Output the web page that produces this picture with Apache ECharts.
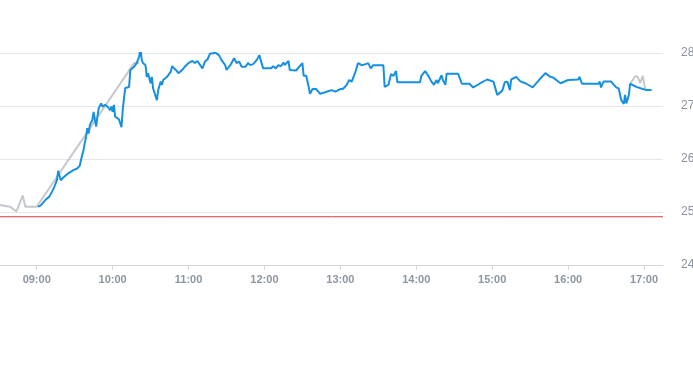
<!DOCTYPE html>
<html>
<head>
<meta charset="utf-8">
<script src="https://cdn.jsdelivr.net/npm/echarts@6/dist/echarts.min.js"></script>
<style>
html,body{margin:0;padding:0;background:#fff;}
#chart{width:693px;height:365px;}
</style>
</head>
<body>
<div id="chart"></div>
<script>
var xTickLabels = ["09:00","10:00","11:00","12:00","13:00","14:00","15:00","16:00","17:00"];
var yTickValues = [24, 25, 26, 27, 28];
var axisStart = "08:31";
var axisEnd = "17:15";
var refValue = 24.91;

var blueTimes = ["09:01","09:03","09:07","09:10","09:12","09:14","09:16","09:17","09:18","09:19","09:21","09:25","09:29","09:32","09:34","09:35","09:37","09:38","09:39","09:40","09:41","09:42","09:44","09:45","09:46","09:47","09:48","09:49","09:51","09:52","09:54","09:56","09:58","09:59","10:00","10:01","10:02","10:05","10:07","10:08","10:09","10:10","10:13","10:14","10:17","10:19","10:21","10:22","10:23","10:24","10:26","10:27","10:28","10:30","10:31","10:32","10:35","10:36","10:38","10:39","10:40","10:43","10:46","10:47","10:50","10:52","10:55","10:57","11:00","11:03","11:05","11:07","11:11","11:13","11:15","11:17","11:19","11:21","11:24","11:26","11:29","11:30","11:33","11:36","11:38","11:40","11:42","11:45","11:47","11:49","11:51","11:54","11:56","11:57","11:59","12:05","12:07","12:09","12:11","12:13","12:15","12:16","12:19","12:20","12:25","12:30","12:31","12:33","12:35","12:36","12:38","12:41","12:44","12:48","12:53","12:56","13:00","13:02","13:05","13:07","13:09","13:12","13:14","13:17","13:20","13:22","13:24","13:26","13:34","13:35","13:38","13:40","13:42","13:44","13:45","14:03","14:04","14:07","14:10","14:12","14:14","14:16","14:17","14:20","14:21","14:23","14:24","14:33","14:36","14:42","14:45","14:50","14:56","15:01","15:04","15:08","15:10","15:12","15:14","15:15","15:19","15:22","15:27","15:32","15:37","15:42","15:46","15:48","15:54","16:00","16:08","16:09","16:11","16:24","16:25","16:26","16:28","16:34","16:38","16:40","16:42","16:44","16:45","16:46","16:48","16:49","16:54","16:59","17:02","17:06"];
var blueValues = [25.10,25.12,25.23,25.29,25.38,25.48,25.60,25.78,25.81,25.60,25.65,25.73,25.79,25.82,25.87,25.98,26.17,26.30,26.42,26.58,26.48,26.64,26.74,26.89,26.74,26.61,26.80,26.96,27.05,26.99,27.02,26.99,26.92,26.99,26.89,27.02,26.80,26.75,26.60,26.92,27.15,27.34,27.36,27.68,27.74,27.81,27.93,28.11,27.87,27.81,27.77,27.55,27.62,27.43,27.55,27.33,27.11,27.30,27.46,27.40,27.49,27.55,27.65,27.75,27.68,27.62,27.68,27.74,27.81,27.85,27.81,27.85,27.71,27.84,27.88,27.99,27.99,28.01,27.96,27.87,27.77,27.68,27.77,27.90,27.81,27.84,27.74,27.74,27.81,27.77,27.79,27.87,27.96,27.87,27.71,27.71,27.75,27.71,27.77,27.75,27.82,27.77,27.85,27.68,27.67,27.81,27.57,27.57,27.36,27.23,27.32,27.32,27.23,27.26,27.30,27.27,27.32,27.32,27.40,27.49,27.46,27.65,27.81,27.77,27.79,27.81,27.71,27.77,27.77,27.36,27.40,27.60,27.57,27.66,27.45,27.45,27.57,27.66,27.55,27.46,27.40,27.49,27.43,27.58,27.49,27.40,27.61,27.61,27.42,27.42,27.35,27.42,27.50,27.46,27.21,27.29,27.45,27.46,27.30,27.50,27.55,27.47,27.42,27.35,27.49,27.62,27.55,27.54,27.43,27.49,27.50,27.55,27.42,27.42,27.46,27.35,27.46,27.46,27.35,27.33,27.11,27.04,27.21,27.05,27.21,27.42,27.36,27.32,27.30,27.30];

var grayTimes = ["08:31","08:39","08:44","08:49","08:51","09:00","10:17","10:21","10:40","16:49","16:50","16:53","16:55","16:57","16:59","17:01"];
var grayValues = [25.13,25.10,25.01,25.31,25.10,25.10,27.81,27.81,null,27.42,27.42,27.56,27.55,27.43,27.57,27.31];

function mins(hm){
  var p = hm.split(":");
  return parseInt(p[0],10)*60 + parseInt(p[1],10);
}
function pad(n){return (n<10?"0":"")+n;}

var blueData = blueTimes.map(function(t,i){return [mins(t), blueValues[i]];});
var grayData = grayTimes.map(function(t,i){return [mins(t), grayValues[i]];});
var refData = [[mins(axisStart), refValue],[mins(axisEnd), refValue]];
var tickVals = xTickLabels.map(mins);

var chart = echarts.init(document.getElementById('chart'), null, {renderer:'canvas'});
chart.setOption({
  animation:false,
  backgroundColor:'#ffffff',
  grid:{left:0,right:30,top:53,bottom:100,containLabel:false,outerBoundsMode:'none'},
  xAxis:{
    type:'value',
    min:mins(axisStart),
    max:mins(axisEnd),
    axisLine:{show:true,lineStyle:{color:'#d3d6db',width:1}},
    axisTick:{show:true,customValues:tickVals,length:5,lineStyle:{color:'#d3d6db'}},
    axisLabel:{
      customValues:tickVals,
      color:'#8c96a3',
      fontSize:11,
      fontWeight:'bold',
      fontFamily:'Liberation Sans, Arial, sans-serif',
      margin:9,
      formatter:function(v){return pad(Math.floor(v/60))+":"+pad(v%60);}
    },
    splitLine:{show:false}
  },
  yAxis:{
    type:'value',
    position:'right',
    min:yTickValues[0],
    max:yTickValues[yTickValues.length-1],
    interval:1,
    axisLine:{show:false},
    axisTick:{show:false},
    axisLabel:{color:'#8c929b',fontSize:12,fontFamily:'Liberation Sans, Arial, sans-serif',margin:18},
    splitLine:{show:true,lineStyle:{color:'#e4e6ea',width:1}}
  },
  series:[
    {
      type:'line',
      data:refData,
      showSymbol:false,
      symbol:'none',
      silent:true,
      lineStyle:{color:'#d23b3b',width:1},
      z:1
    },
    {
      type:'line',
      data:grayData,
      showSymbol:false,
      symbol:'none',
      connectNulls:false,
      lineStyle:{color:'#c4c8ce',width:2},
      z:2
    },
    {
      type:'line',
      data:blueData,
      showSymbol:false,
      symbol:'none',
      lineStyle:{color:'#1790e0',width:2},
      z:3
    }
  ]
});
</script>
</body>
</html>
